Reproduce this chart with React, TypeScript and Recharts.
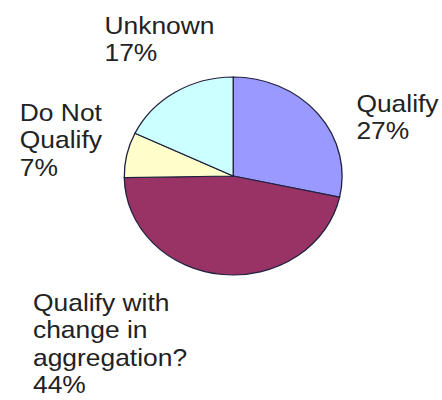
import React from "react";
import { PieChart, Pie, Cell } from "recharts";

// slices, clockwise from 12 o'clock
const names = ["Qualify", "Qualify with change in aggregation?", "Do Not Qualify", "Unknown"];
const shares = [27, 44, 7, 17];
const labelLines = [["Qualify"], ["Qualify with", "change in", "aggregation?"], ["Do Not", "Qualify"], ["Unknown"]];

const COLORS = ["#9999ff", "#993366", "#ffffcc", "#ccffff"];
// where each label block starts (left edge, first baseline) in chart coords
const LABEL_SPOTS = [
  { x: 324, y: 112 },
  { x: 30, y: 311 },
  { x: 18, y: 121 },
  { x: 95, y: 34 },
];

const data = names.map((name, i) => ({ name, value: shares[i] }));

// the source picture is stretched sideways, so the whole chart is scaled in x
const STRETCH = 1.1;
const W = 402;
const H = 400;

const renderLabel = (props: any) => {
  const spot = LABEL_SPOTS[props.index];
  const lines = [...labelLines[props.index], `${props.value}%`];
  return (
    <text
      x={spot.x}
      y={spot.y}
      fill="#222"
      fontSize={24}
      fontFamily="'Liberation Sans', Arial, sans-serif"
      textAnchor="start"
    >
      {lines.map((line, i) => (
        <tspan key={i} x={spot.x} dy={i === 0 ? 0 : 27.5}>
          {line}
        </tspan>
      ))}
    </text>
  );
};

export default function App() {
  return (
    <div
      style={{
        position: "absolute",
        left: 0,
        top: 0,
        width: 442,
        height: 400,
        overflow: "hidden",
        background: "#fff",
      }}
    >
      <div style={{ transform: `scaleX(${STRETCH})`, transformOrigin: "0 0", width: W, height: H }}>
        <PieChart width={W} height={H} margin={{ top: 0, right: 0, bottom: 0, left: 0 }}>
          <Pie
            data={data}
            dataKey="value"
            nameKey="name"
            cx={212}
            cy={176}
            outerRadius={99}
            startAngle={90}
            endAngle={-270}
            stroke="#222240"
            strokeWidth={1.2}
            label={renderLabel}
            labelLine={false}
            isAnimationActive={false}
          >
            {data.map((d, i) => (
              <Cell key={d.name} fill={COLORS[i]} />
            ))}
          </Pie>
        </PieChart>
      </div>
    </div>
  );
}
